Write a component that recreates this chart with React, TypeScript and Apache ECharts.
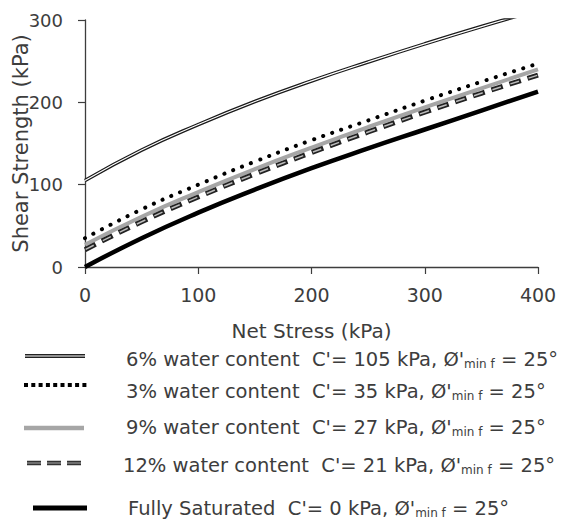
import React, { useEffect, useRef } from "react";
import * as echarts from "echarts";

const netStress = [0, 50, 100, 150, 200, 250, 300, 350, 400];
const wc6 = [105, 142, 173, 201, 226, 249, 271, 292, 312];
const wc3 = [35, 70, 100, 128, 154, 178, 202, 225, 247];
const wc9 = [27, 61, 91, 119, 145, 170, 194, 217, 240];
const wc12 = [21, 55, 85, 113, 139, 164, 188, 211, 233];
const saturated = [0, 35, 66, 94, 120, 144, 167, 190, 213];

const xTicks = [0, 100, 200, 300, 400];
const yTicks = [0, 100, 200, 300];

const legendRows = [
  { pre: "6% water content  C'= 105 kPa, Ø'", x: 126, y: 359 },
  { pre: "3% water content  C'= 35 kPa, Ø'", x: 126, y: 391 },
  { pre: "9% water content  C'= 27 kPa, Ø'", x: 126, y: 427 },
  { pre: "12% water content  C'= 21 kPa, Ø'", x: 123, y: 465 },
  { pre: "Fully Saturated  C'= 0 kPa, Ø'", x: 128, y: 508 },
];

const FONT = "'DejaVu Sans', sans-serif";
const AXIS = "#3d3d3d";

const pairs = (ys: number[]) => netStress.map((x, i) => [x, ys[i]]);

export default function App() {
  const ref = useRef<HTMLDivElement>(null);
  useEffect(() => {
    if (!ref.current) return;
    const chart = echarts.init(ref.current, null, { renderer: "svg" });
    const base = { type: "line", showSymbol: false, smooth: 0.5, clip: true, silent: true };
    const graphics: any[] = [];
    graphics.push(
      { type: "line", shape: { x1: 25, y1: 356, x2: 85, y2: 356 }, style: { stroke: "#222", lineWidth: 4 } },
      { type: "line", shape: { x1: 25, y1: 356, x2: 85, y2: 356 }, style: { stroke: "#fff", lineWidth: 1.2 } },
      { type: "line", shape: { x1: 24, y1: 385, x2: 89, y2: 385 }, style: { stroke: "#000", lineWidth: 4, lineDash: [4, 3.3] } },
      { type: "line", shape: { x1: 24, y1: 428, x2: 84, y2: 428 }, style: { stroke: "#a6a6a6", lineWidth: 4.5 } },
      { type: "line", shape: { x1: 27, y1: 463, x2: 83, y2: 463 }, style: { stroke: "#333", lineWidth: 4.5, lineDash: [14, 6] } },
      { type: "line", shape: { x1: 27, y1: 463, x2: 83, y2: 463 }, style: { stroke: "#aaa", lineWidth: 1.2, lineDash: [14, 6] } },
      { type: "line", shape: { x1: 33, y1: 508, x2: 87, y2: 508 }, style: { stroke: "#000", lineWidth: 5 } }
    );
    legendRows.forEach((r) => {
      graphics.push({
        type: "text",
        x: r.x,
        y: r.y,
        style: {
          text: `{a|${r.pre}}{s|min f}{a| = 25°}`,
          verticalAlign: "middle",
          fill: AXIS,
          rich: {
            a: { fontSize: 19.5, fontFamily: FONT, fill: AXIS },
            s: { fontSize: 12, fontFamily: FONT, fill: AXIS, padding: [9, 0, 0, 0] },
          },
        },
      });
    });
    chart.setOption({
      animation: false,
      grid: { left: 85, right: 25, top: 20, bottom: 254, outerBoundsMode: "none", containLabel: false },
      xAxis: {
        type: "value",
        min: xTicks[0],
        max: xTicks[xTicks.length - 1],
        interval: 100,
        name: "Net Stress (kPa)",
        nameLocation: "middle",
        nameGap: 54,
        nameMoveOverlap: false,
        nameTextStyle: { fontSize: 20, fontFamily: FONT, color: AXIS },
        axisLine: { lineStyle: { color: AXIS, width: 1.3 } },
        axisTick: { show: true, length: 7, lineStyle: { color: AXIS, width: 1.2 } },
        axisLabel: { fontSize: 19, fontFamily: FONT, color: AXIS, margin: 18 },
        splitLine: { show: false },
      },
      yAxis: {
        type: "value",
        min: yTicks[0],
        max: yTicks[yTicks.length - 1],
        interval: 100,
        name: "Shear Strength (kPa)",
        nameLocation: "middle",
        nameGap: 54,
        nameMoveOverlap: false,
        nameTextStyle: { fontSize: 21, fontFamily: FONT, color: AXIS },
        axisLine: { show: true, lineStyle: { color: AXIS, width: 1.3 } },
        axisTick: { show: true, length: 7, lineStyle: { color: AXIS, width: 1.2 } },
        axisLabel: { fontSize: 18, fontFamily: FONT, color: AXIS, margin: 22 },
        splitLine: { show: false },
      },
      series: [
        { ...base, name: "6% outer", data: pairs(wc6), lineStyle: { color: "#1a1a1a", width: 3.6 } },
        { ...base, name: "6% inner", data: pairs(wc6), lineStyle: { color: "#fff", width: 1.2 } },
        { ...base, name: "9%", data: pairs(wc9), lineStyle: { color: "#a6a6a6", width: 4 } },
        { ...base, name: "12% outer", data: pairs(wc12), lineStyle: { color: "#222", width: 5, type: [12, 7] } },
        { ...base, name: "12% inner", data: pairs(wc12), lineStyle: { color: "#bbb", width: 1.5, type: [9, 10], dashOffset: -1.5 } },
        { ...base, name: "3%", data: pairs(wc3), lineStyle: { color: "#000", width: 4, type: [0.1, 9.5], cap: "round" } },
        { ...base, name: "Fully Saturated", data: pairs(saturated), lineStyle: { color: "#000", width: 4.5 } },
      ],
      graphic: graphics,
    });
    return () => chart.dispose();
  }, []);
  return <div ref={ref} style={{ width: 563, height: 521, position: "absolute", left: 0, top: 0 }} />;
}
